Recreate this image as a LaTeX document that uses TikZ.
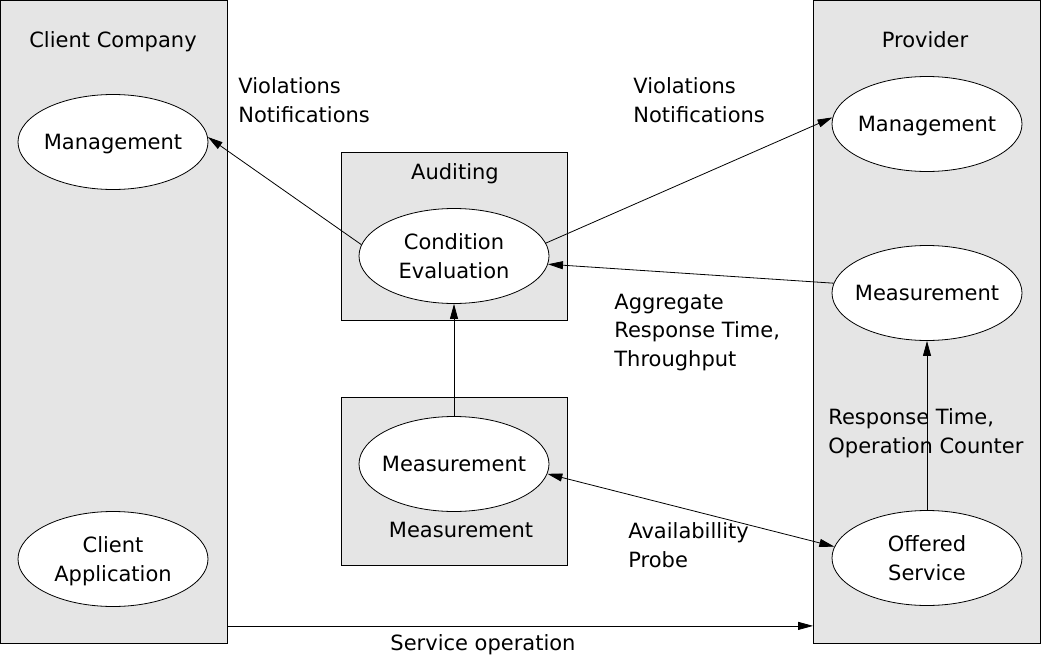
\documentclass[tikz,border=0pt]{standalone}
\usepackage{fontspec}
\setmainfont{DejaVu Sans}
\usetikzlibrary{arrows.meta,shapes.geometric}
\definecolor{panelgray}{gray}{0.9}

\begin{document}
\begin{tikzpicture}[x=1pt,y=-1pt,->,>={Triangle[length=15pt,width=8pt]},line width=0.8pt,font=\fontsize{21}{28.5}\selectfont,
    every node/.style={text depth=0pt},
    panel/.style={draw,fill=panelgray,minimum width=227pt,minimum height=643pt,inner sep=0pt},
    box/.style={draw,fill=panelgray,minimum width=226pt,minimum height=168pt,inner sep=0pt},
    main node/.style={ellipse,draw,fill=white,minimum width=190pt,minimum height=95pt,inner sep=-10pt,align=center},
    note/.style={inner sep=0pt,align=left,anchor=west}]
            \useasboundingbox (0,0) rectangle (1042,664);

            % panels and boxes
            \node[panel] (1) at (114,322) {};
            \node[panel] (2) at (927,322) {};
            \node[box] (3) at (454,236) {};
            \node[box] (4) at (454,481) {};

            \node (5) at (113,40) {Client Company};
            \node (6) at (925,40) {Provider};
            \node (7) at (455,172) {Auditing};
            \node (8) at (461,530) {Measurement};

            % ellipses
            \node[main node] (9) at (113,142) {Management};
            \node[main node] (10) at (113,559) {Client\\Application};
            \node[main node] (11) at (454,256) {Condition\\Evaluation};
            \node[main node] (12) at (454,464) {Measurement};
            \node[main node] (13) at (927,124) {Management};
            \node[main node] (14) at (927,293) {Measurement};
            \node[main node] (15) at (927,558) {Offered\\Service};

            % labels
            \node[note] (16) at (238,100) {Violations\\Notifications};
            \node[note] (17) at (633,100) {Violations\\Notifications};
            \node[note] (18) at (614,330) {Aggregate\\Response Time,\\Throughput};
            \node[note] (19) at (828,431) {Response Time,\\Operation Counter};
            \node[note] (20) at (628,545) {Availabillity\\Probe};

            \coordinate (21) at ([yshift=18pt]1.south east);
            \coordinate (22) at ([yshift=18pt]2.south west);
            \node (23) at (483,643) {Service operation};

            \path
                (11.173) edge (9.3)
                (11.8) edge (13.176)
                (14.174) edge (11.355)
                (12.north) edge (11.south)
                (15.north) edge (14.south)
                (12.354) edge[<->] (15.173)
                (21) edge (22)
                ;
        \end{tikzpicture}
\end{document}
